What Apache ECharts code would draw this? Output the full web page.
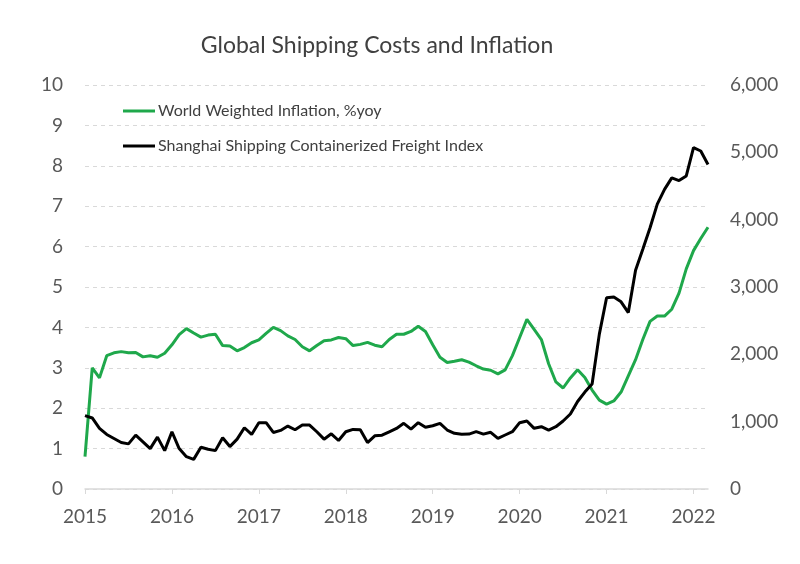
<!DOCTYPE html>
<html>
<head>
<meta charset="utf-8">
<script src="https://cdn.jsdelivr.net/npm/echarts@6/dist/echarts.min.js"></script>
<style>
html,body{margin:0;padding:0;background:#fff;}
#chart{width:800px;height:564px;}
</style>
</head>
<body>
<div id="chart"></div>
<script>
// Monthly categories Jan 2015 – Mar 2022
const years = [2015, 2016, 2017, 2018, 2019, 2020, 2021, 2022];
const months = ['01','02','03','04','05','06','07','08','09','10','11','12'];
const categories = [];
years.forEach(y => months.forEach(m => {
  if (y < 2022 || m <= '03') categories.push(y + '-' + m);
}));

const inflationName = 'World Weighted Inflation, %yoy';
const freightName = 'Shanghai Shipping Containerized Freight Index';

// World Weighted Inflation, %yoy (left axis)
const inflation = [
  0.8, 3.0, 2.75, 3.3, 3.37, 3.4, 3.37, 3.38, 3.27, 3.3, 3.26, 3.36,
  3.57, 3.82, 3.97, 3.86, 3.76, 3.81, 3.83, 3.55, 3.54, 3.42, 3.5, 3.62,
  3.69, 3.85, 4.0, 3.92, 3.79, 3.7, 3.52, 3.42, 3.55, 3.67, 3.69, 3.75,
  3.72, 3.55, 3.58, 3.63, 3.56, 3.52, 3.7, 3.83, 3.83, 3.9, 4.03, 3.9,
  3.57, 3.26, 3.13, 3.16, 3.2, 3.14, 3.05, 2.97, 2.94, 2.85, 2.95, 3.3,
  3.75, 4.2, 3.95, 3.7, 3.1, 2.65, 2.5, 2.75, 2.95, 2.76, 2.45, 2.2,
  2.1, 2.18, 2.4, 2.8, 3.2, 3.7, 4.15, 4.28, 4.28, 4.45, 4.85, 5.45,
  5.9, 6.2, 6.48
];

// Shanghai Shipping Containerized Freight Index (right axis)
const freight = [
  1090, 1055, 900, 810, 750, 690, 670, 800, 700, 600, 770, 570,
  850, 600, 480, 440, 620, 590, 570, 760, 630, 740, 910, 810,
  985, 985, 840, 870, 935, 880, 950, 950, 850, 740, 820, 720,
  850, 885, 880, 690, 790, 800, 850, 900, 975, 890, 985, 916,
  940, 975, 876, 827, 812, 815, 851, 815, 842, 753, 802, 851,
  985, 1010, 901, 925, 876, 925, 1010, 1114, 1300, 1440, 1560, 2300,
  2840, 2850, 2780, 2620, 3250, 3560, 3880, 4230, 4450, 4620, 4580, 4650,
  5070, 5020, 4820
];

const leftTicks = [0, 10, 1];
const rightTicks = [0, 6000, 1000];

const font = 'Lato';
const chart = echarts.init(document.getElementById('chart'));
const isJan = (idx, val) => String(val).slice(5) === '01';

chart.setOption({
  backgroundColor: '#ffffff',
  animation: false,
  title: {
    text: 'Global Shipping Costs and Inflation',
    left: 372,
    textAlign: 'center',
    top: 29,
    textStyle: { fontFamily: font, fontSize: 23, fontWeight: 'normal', color: '#404040' }
  },
  legend: {
    orient: 'vertical',
    left: 118,
    top: 98,
    itemGap: 19,
    itemWidth: 32,
    itemHeight: 3,
    icon: 'rect',
    textStyle: { fontFamily: font, fontSize: 16, color: '#404040', padding: [0, 0, 0, -2] },
    data: [inflationName, freightName]
  },
  grid: { left: 85, right: 92, top: 85, bottom: 75, containLabel: false },
  xAxis: {
    type: 'category',
    data: categories,
    boundaryGap: false,
    axisLine: { lineStyle: { color: '#d9d9d9', width: 1.5 } },
    axisTick: { interval: isJan, length: 5, lineStyle: { color: '#d9d9d9' } },
    axisLabel: {
      interval: isJan,
      formatter: v => v.slice(0, 4),
      margin: 18,
      fontFamily: font, fontSize: 19, color: '#595959'
    },
    splitLine: { show: false }
  },
  yAxis: [
    {
      type: 'value',
      min: leftTicks[0], max: leftTicks[1], interval: leftTicks[2],
      axisLine: { show: false },
      axisTick: { show: false },
      axisLabel: { margin: 22, fontFamily: font, fontSize: 19, color: '#595959' },
      splitLine: { show: true, lineStyle: { color: '#d9d9d9', type: [4, 4], width: 1 } }
    },
    {
      type: 'value',
      min: rightTicks[0], max: rightTicks[1], interval: rightTicks[2],
      axisLine: { show: false },
      axisTick: { show: false },
      axisLabel: {
        margin: 22, fontFamily: font, fontSize: 19, color: '#595959',
        formatter: v => v.toLocaleString('en-US')
      },
      splitLine: { show: false }
    }
  ],
  series: [
    {
      name: inflationName,
      type: 'line',
      yAxisIndex: 0,
      data: inflation,
      showSymbol: false,
      symbol: 'none',
      lineStyle: { color: '#1fa84b', width: 3 },
      itemStyle: { color: '#1fa84b' }
    },
    {
      name: freightName,
      type: 'line',
      yAxisIndex: 1,
      data: freight,
      showSymbol: false,
      symbol: 'none',
      lineStyle: { color: '#000000', width: 3 },
      itemStyle: { color: '#000000' }
    }
  ]
});
</script>
</body>
</html>
